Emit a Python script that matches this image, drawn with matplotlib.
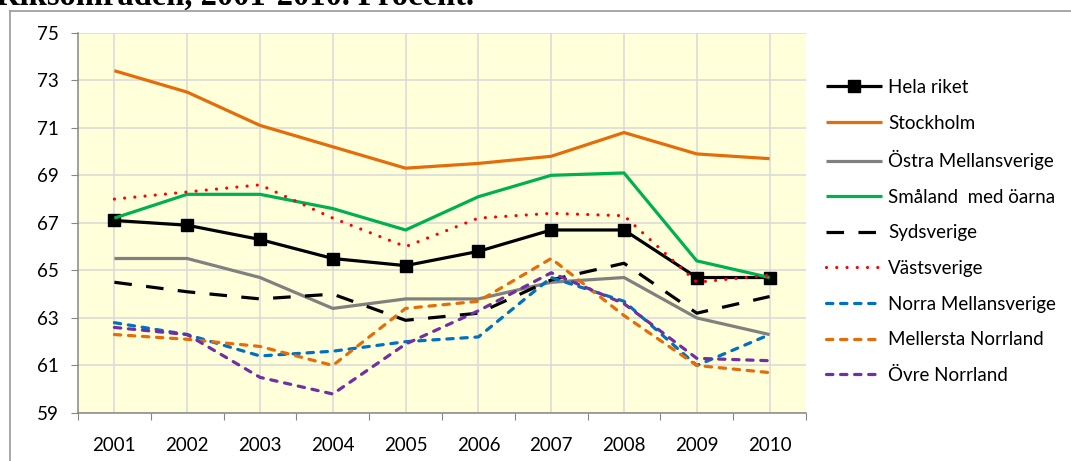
import matplotlib.pyplot as plt
from matplotlib.lines import Line2D
from matplotlib.ticker import FixedLocator, NullFormatter

# ── data ──────────────────────────────────────────────────────────────────────
years = [2001, 2002, 2003, 2004, 2005, 2006, 2007, 2008, 2009, 2010]

hela_riket    = [67.1, 66.9, 66.3, 65.5, 65.2, 65.8, 66.7, 66.7, 64.7, 64.7]
stockholm     = [73.4, 72.5, 71.1, 70.2, 69.3, 69.5, 69.8, 70.8, 69.9, 69.7]
ostra_mellan  = [65.5, 65.5, 64.7, 63.4, 63.8, 63.8, 64.5, 64.7, 63.0, 62.3]
smaland       = [67.2, 68.2, 68.2, 67.6, 66.7, 68.1, 69.0, 69.1, 65.4, 64.7]
sydsverige    = [64.5, 64.1, 63.8, 64.0, 62.9, 63.2, 64.6, 65.3, 63.2, 63.9]
vastsverige   = [68.0, 68.3, 68.6, 67.2, 66.0, 67.2, 67.4, 67.3, 64.5, 64.8]
norra_mellan  = [62.8, 62.3, 61.4, 61.6, 62.0, 62.2, 64.7, 63.7, 61.0, 62.3]
mellersta_nl  = [62.3, 62.1, 61.8, 61.0, 63.4, 63.7, 65.5, 63.1, 61.0, 60.7]
ovre_nl       = [62.6, 62.3, 60.5, 59.8, 61.9, 63.3, 64.9, 63.6, 61.3, 61.2]

labels = ["Hela riket", "Stockholm", "Östra Mellansverige", "Småland  med öarna",
          "Sydsverige", "Västsverige", "Norra Mellansverige", "Mellersta Norrland",
          "Övre Norrland"]
series = [hela_riket, stockholm, ostra_mellan, smaland, sydsverige,
          vastsverige, norra_mellan, mellersta_nl, ovre_nl]

y_ticks = [59, 61, 63, 65, 67, 69, 71, 73, 75]

# ── styles ────────────────────────────────────────────────────────────────────
LW = 2.3
styles = [
    dict(color="black",   lw=LW, marker="s", markersize=9),
    dict(color="#E46C0A", lw=LW),
    dict(color="#808080", lw=LW),
    dict(color="#00B050", lw=LW),
    dict(color="black",   lw=LW, linestyle=(0, (5.5, 4.5))),
    dict(color="#FF0000", lw=LW, linestyle=(0, (0.01, 3.2)), dash_capstyle="round"),
    dict(color="#0070C0", lw=LW, linestyle=(0, (2.0, 2.4)), dash_capstyle="round"),
    dict(color="#E46C0A", lw=LW, linestyle=(0, (2.0, 2.4)), dash_capstyle="round"),
    dict(color="#7030A0", lw=LW, linestyle=(0, (2.0, 2.4)), dash_capstyle="round"),
]

FS = 13.5
plt.rcParams["font.family"] = ["Lato", "DejaVu Sans"]

fig = plt.figure(figsize=(10.71, 4.61), dpi=100)
ax = fig.add_axes([78 / 1071, 1 - 413 / 461, 728 / 1071, (413 - 32.7) / 461])
ax.set_facecolor("#FFFFDA")

x = list(range(1, len(years) + 1))
for vals, lab, st in zip(series, labels, styles):
    ax.plot(x, vals, label=lab, solid_capstyle="butt", **st)

# ── axes ──────────────────────────────────────────────────────────────────────
ax.set_xlim(0.5, len(years) + 0.5)
ax.set_ylim(59, 75)

ax.xaxis.set_major_locator(FixedLocator([i + 0.5 for i in range(len(years) + 1)]))
ax.xaxis.set_major_formatter(NullFormatter())
ax.set_xticks(x, minor=True)
ax.set_xticklabels([str(y) for y in years], minor=True, fontsize=FS)
ax.tick_params(axis="x", which="minor", length=0, pad=17)
ax.tick_params(axis="x", which="major", length=5, color="#868686", direction="out")

ax.set_yticks(y_ticks)
ax.set_yticklabels([str(v) for v in y_ticks], fontsize=FS)
ax.tick_params(axis="y", length=5, color="#868686", pad=9)

for xi in x:
    ax.axvline(xi, color="#D9D9D9", lw=1.1, zorder=0.5)
for yv in y_ticks:
    ax.axhline(yv, color="#D9D9D9", lw=1.1, zorder=0.5)

for side in ["top", "right"]:
    ax.spines[side].set_visible(False)
for side in ["left", "bottom"]:
    ax.spines[side].set_color("#868686")
    ax.spines[side].set_linewidth(1.1)

# ── legend ────────────────────────────────────────────────────────────────────
fig.legend(loc="upper left", bbox_to_anchor=(826 / 1071, 1 - 79 / 461),
           frameon=False, fontsize=FS, handlelength=3.0, handletextpad=0.3,
           labelspacing=0.99, borderpad=0, borderaxespad=0)

# ── outer frame and clipped title ─────────────────────────────────────────────
fig.add_artist(Line2D([10 / 1071, 1], [1 - 11 / 461] * 2, color="#A0A0A0", lw=1.3))
fig.add_artist(Line2D([10 / 1071] * 2, [0, 1 - 11 / 461], color="#A0A0A0", lw=1.3))
fig.text(-4 / 1071, 1 - 5 / 461, "Riksområden, 2001-2010. Procent.",
         family=["Liberation Serif", "DejaVu Serif"], fontweight="bold",
         fontsize=23.5, va="baseline", ha="left")

fig.savefig("out.png", dpi=100)
